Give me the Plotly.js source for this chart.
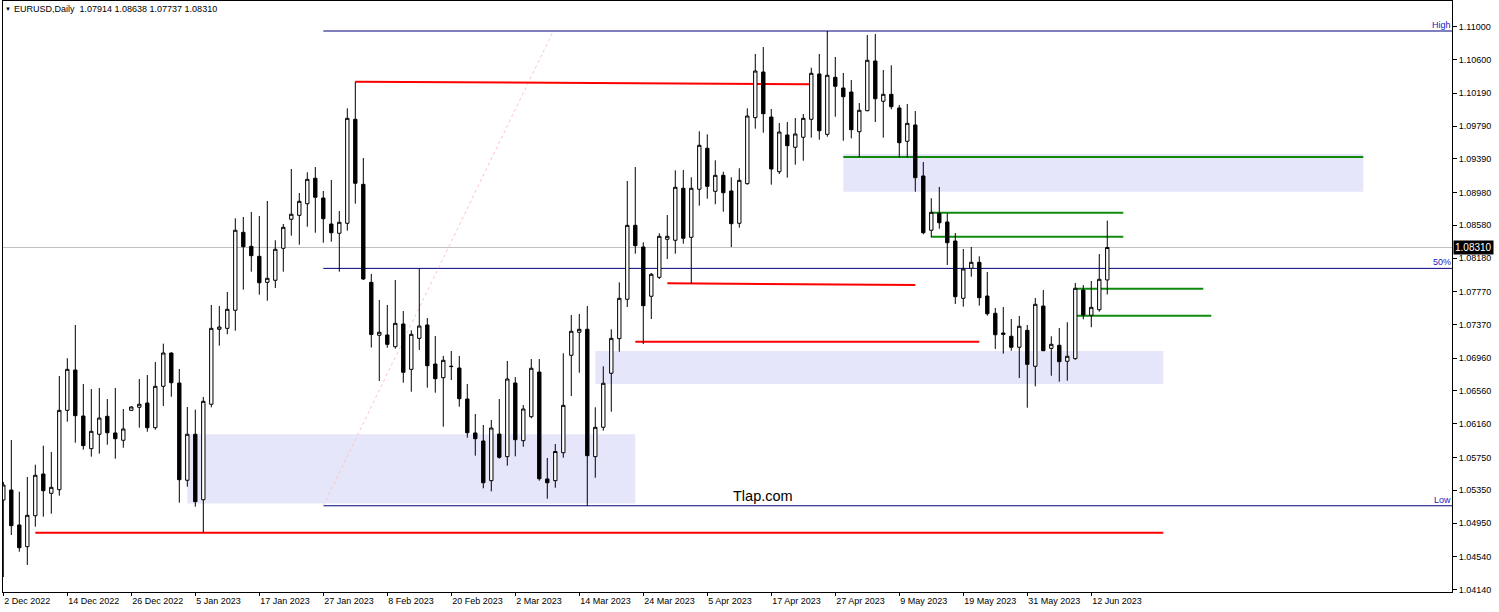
<!DOCTYPE html>
<html><head><meta charset="utf-8">
<script src="https://cdn.plot.ly/plotly-3.0.1.min.js"></script>
<style>html,body{margin:0;padding:0;background:#fff;overflow:hidden}</style>
</head><body><div id="chart" style="width:1499px;height:612px"></div>
<script>
// ---------------- data ----------------
const symbolTitle = 'EURUSD,Daily';
const lastOHLC = ['1.07914', '1.08638', '1.07737', '1.08310'];
const watermark = 'Tlap.com';

const xTickLabels = ['2 Dec 2022','14 Dec 2022','26 Dec 2022','5 Jan 2023','17 Jan 2023','27 Jan 2023',
  '8 Feb 2023','20 Feb 2023','2 Mar 2023','14 Mar 2023','24 Mar 2023','5 Apr 2023','17 Apr 2023',
  '27 Apr 2023','9 May 2023','19 May 2023','31 May 2023','12 Jun 2023'];
const barsPerXLabel = 8;

const yTickLabels = ['1.11000','1.10600','1.10190','1.09790','1.09390','1.08980','1.08580','1.08180',
  '1.07770','1.07370','1.06960','1.06560','1.06160','1.05750','1.05350','1.04950','1.04540','1.04140'];

const open = [
1.05230,1.05352,1.04926,1.04661,1.05039,1.05548,1.05312,1.05356,1.06324,1.06816,
1.06255,1.05856,1.06032,1.06251,1.06048,1.05959,1.06324,1.06361,1.06413,1.06112,
1.06617,1.07023,1.06657,1.05471,1.06032,1.05234,1.06398,1.07312,1.07324,1.07544,
1.08495,1.08324,1.08202,1.07885,1.07910,1.08300,1.08654,1.08702,1.08844,1.09154,
1.08913,1.08596,1.08483,1.08605,1.09873,1.09080,1.07885,1.07239,1.07243,1.07100,
1.07377,1.06824,1.07202,1.07365,1.06889,1.06722,1.06862,1.06840,1.06462,1.06048,
1.05950,1.05466,1.06035,1.05759,1.06657,1.05954,1.06246,1.06791,1.05487,1.05466,
1.05807,1.06995,1.07276,1.07312,1.05759,1.06117,1.06776,1.07198,1.07678,1.08580,
1.08316,1.07715,1.07946,1.08410,1.08398,1.09032,1.08434,1.09020,1.09520,1.08995,
1.09190,1.08999,1.08605,1.09088,1.09893,1.10450,1.09901,1.09234,1.09682,1.09532,
1.09654,1.09873,1.10426,1.09690,1.10385,1.10255,1.10206,1.09722,1.09978,1.10584,
1.10093,1.10178,1.10011,1.09605,1.09804,1.09182,1.08520,1.08727,1.08621,1.08389,
1.07690,1.08056,1.08129,1.07718,1.07507,1.07267,1.07227,1.07093,1.07300,1.06861,
1.07596,1.07080,1.07117,1.06922,1.06954,1.07791,1.07483,1.07551,1.07914];
const high = [
1.05450,1.05962,1.05332,1.05511,1.05661,1.05893,1.05816,1.06743,1.06959,1.07365,
1.06645,1.06584,1.06596,1.06462,1.06596,1.06340,1.06373,1.06706,1.06755,1.06913,
1.07137,1.07029,1.06828,1.06365,1.06332,1.06487,1.07609,1.07596,1.07767,1.08666,
1.08682,1.08743,1.08694,1.08877,1.08398,1.08596,1.09267,1.08974,1.09227,1.09291,
1.08999,1.09133,1.08755,1.10007,1.10332,1.09401,1.07987,1.07670,1.07609,1.07913,
1.07535,1.07300,1.08056,1.07450,1.07230,1.06987,1.07048,1.06987,1.06645,1.06279,
1.06145,1.06206,1.06462,1.06926,1.06730,1.06389,1.06950,1.06950,1.05743,1.05913,
1.07020,1.07487,1.07499,1.07596,1.06361,1.06861,1.07312,1.07885,1.09121,1.09291,
1.08373,1.07999,1.08483,1.08706,1.09251,1.09255,1.09166,1.09727,1.09690,1.09373,
1.09234,1.09166,1.09276,1.10007,1.10670,1.10755,1.09999,1.09828,1.09840,1.09889,
1.09938,1.10502,1.10670,1.10950,1.10633,1.10438,1.10352,1.10072,1.10901,1.10913,
1.10474,1.10532,1.10048,1.10060,1.09974,1.09352,1.08910,1.09048,1.08727,1.08487,
1.08291,1.08316,1.08202,1.08011,1.07572,1.07584,1.07438,1.07474,1.07365,1.07694,
1.07791,1.07227,1.07328,1.07398,1.07877,1.07852,1.07901,1.08230,1.08638];
const low = [
1.04291,1.04804,1.04600,1.04438,1.04905,1.05027,1.05063,1.05283,1.06185,1.05929,
1.05844,1.05759,1.05795,1.05905,1.05734,1.05868,1.06318,1.06112,1.06063,1.06088,
1.06377,1.06490,1.05198,1.05393,1.05149,1.04832,1.06361,1.07112,1.07251,1.07295,
1.07795,1.08015,1.07734,1.07661,1.07816,1.08015,1.08454,1.08344,1.08563,1.08490,
1.08368,1.08380,1.08015,1.08515,1.08844,1.07913,1.07090,1.06682,1.07088,1.07076,
1.06661,1.06551,1.07060,1.06600,1.06539,1.06124,1.06694,1.06368,1.05990,1.05771,
1.05373,1.05336,1.05734,1.05649,1.05763,1.05880,1.06227,1.05466,1.05246,1.05380,
1.05746,1.06499,1.06783,1.05157,1.05502,1.06076,1.06307,1.07039,1.07584,1.08234,
1.07133,1.07438,1.07926,1.08170,1.08234,1.08356,1.07868,1.08820,1.08905,1.08837,
1.08746,1.08316,1.08551,1.09076,1.09759,1.09710,1.09076,1.09206,1.09161,1.09320,
1.09368,1.09649,1.09624,1.09661,1.09905,1.09612,1.09641,1.09413,1.09971,1.09840,
1.09649,1.09995,1.09410,1.09410,1.08990,1.08471,1.08434,1.08539,1.08096,1.07621,
1.07588,1.07954,1.07600,1.07478,1.07072,1.07015,1.07051,1.06718,1.06356,1.06617,
1.07048,1.06746,1.06673,1.06685,1.06941,1.07434,1.07337,1.07527,1.07737];
const close = [
1.05413,1.04917,1.04649,1.05044,1.05532,1.05344,1.05385,1.06324,1.06824,1.06259,
1.05893,1.06068,1.06230,1.06051,1.05978,1.06096,1.06365,1.06398,1.06112,1.06617,
1.07023,1.06661,1.05478,1.06032,1.05210,1.06434,1.07324,1.07340,1.07556,1.08520,
1.08320,1.08210,1.07880,1.07934,1.08288,1.08556,1.08715,1.08873,1.09141,1.08922,
1.08661,1.08490,1.08617,1.09885,1.09093,1.07926,1.07249,1.07276,1.07129,1.07385,
1.06788,1.07251,1.07352,1.06868,1.06710,1.06934,1.06858,1.06466,1.06051,1.05978,
1.05441,1.06108,1.05751,1.06706,1.05966,1.06340,1.06837,1.05490,1.05441,1.05822,
1.06385,1.07288,1.07312,1.05771,1.06117,1.06654,1.07202,1.07690,1.08580,1.08332,
1.07600,1.07983,1.08446,1.08446,1.09044,1.08422,1.09032,1.09556,1.09056,1.09190,
1.08978,1.08600,1.09129,1.09913,1.10462,1.09941,1.09267,1.09718,1.09551,1.09694,
1.09885,1.10434,1.09734,1.10410,1.10276,1.10149,1.09746,1.09983,1.10593,1.10124,
1.10178,1.10027,1.09588,1.09824,1.09161,1.08490,1.08739,1.08612,1.08368,1.07710,
1.08048,1.08129,1.07698,1.07502,1.07246,1.07251,1.07093,1.07349,1.06885,1.07617,
1.07051,1.07129,1.06917,1.06983,1.07812,1.07487,1.07580,1.07922,1.08310];

const bidPrice = 1.08310;
// Fibonacci retracement: anchor bars and levels
const fibAnchorBars = [40, 68.75];
const fibLevelNames = ['High', '50%', 'Low'];
const fibLevelPrices = [1.10950, 1.08055, 1.05160];
// supply / demand zones: [fromBar, toBar, topPrice, bottomPrice]
const zoneFrom = [23, 74, 105];
const zoneTo = [79, 145, 170];
const zoneTop = [1.06032, 1.07048, 1.09450];
const zoneBottom = [1.05188, 1.06645, 1.08990];
// green levels: [fromBar, toBar, price]
const greenFrom = [105, 116, 116, 134, 134];
const greenTo = [170, 140, 140, 150, 151];
const greenPrice = [1.09413, 1.08734, 1.08441, 1.07807, 1.07478];
// red lines: fromBar, toBar, startPrice, endPrice
const redFrom = [4, 44, 83, 79];
const redTo = [145, 100.8, 114, 122];
const redStart = [1.04832, 1.10332, 1.07874, 1.07161];
const redEnd = [1.04832, 1.10301, 1.07852, 1.07161];

// ---------------- chart ----------------
const X_RANGE = [-0.0375, 181.09];
const Y_RANGE = [1.041085, 1.113158];
const FONT = 'Liberation Sans, Arial, sans-serif';
const idx = open.map((_, i) => i);

const traces = [{
  type: 'candlestick', x: idx, open: open, high: high, low: low, close: close,
  increasing: {line: {color: '#000000', width: 1}, fillcolor: '#ffffff'},
  decreasing: {line: {color: '#000000', width: 1}, fillcolor: '#000000'},
  whiskerwidth: 0, hoverinfo: 'skip', showlegend: false
}];

const shapes = [];
zoneFrom.forEach((f, i) => shapes.push({type: 'rect', xref: 'x', yref: 'y', x0: f, x1: zoneTo[i],
  y0: zoneBottom[i], y1: zoneTop[i], fillcolor: '#E6E6FA', line: {width: 0}, layer: 'below'}));
shapes.push({type: 'line', xref: 'x', yref: 'y', x0: X_RANGE[0], x1: X_RANGE[1], y0: bidPrice, y1: bidPrice,
  line: {color: '#C0C0C0', width: 1}, layer: 'below'});
fibLevelPrices.forEach(p => shapes.push({type: 'line', xref: 'x', yref: 'y', x0: fibAnchorBars[0], x1: X_RANGE[1],
  y0: p, y1: p, line: {color: '#000080', width: 1}, layer: 'below'}));
shapes.push({type: 'line', xref: 'x', yref: 'y', x0: fibAnchorBars[0], x1: fibAnchorBars[1],
  y0: fibLevelPrices[2], y1: fibLevelPrices[0], line: {color: '#FFC4C4', width: 1, dash: 'dot'}, layer: 'below'});
greenFrom.forEach((f, i) => shapes.push({type: 'line', xref: 'x', yref: 'y', x0: f, x1: greenTo[i],
  y0: greenPrice[i], y1: greenPrice[i], line: {color: '#0E8A0E', width: 2}, layer: 'below'}));
redFrom.forEach((f, i) => shapes.push({type: 'line', xref: 'x', yref: 'y', x0: f, x1: redTo[i],
  y0: redStart[i], y1: redEnd[i], line: {color: '#FF0000', width: 2}, layer: 'below'}));

const annotations = [];
annotations.push({xref: 'paper', yref: 'paper', x: 0.0003, y: 0.9865, xanchor: 'left', yanchor: 'middle',
  text: '▼', showarrow: false, font: {family: FONT, size: 6, color: '#000'}});
annotations.push({xref: 'paper', yref: 'paper', x: 0.0062, y: 0.9865, xanchor: 'left', yanchor: 'middle',
  text: symbolTitle + '&nbsp;&nbsp;' + lastOHLC.join(' '), showarrow: false,
  font: {family: FONT, size: 9, color: '#000'}});
fibLevelNames.forEach((n, i) => annotations.push({xref: 'paper', yref: 'y', x: 1, y: fibLevelPrices[i],
  xanchor: 'right', yanchor: 'bottom', text: n, showarrow: false, borderpad: 0,
  font: {family: FONT, size: 9, color: '#2020C0'}}));
annotations.push({xref: 'x', yref: 'y', x: 94.96, y: 1.05279, xanchor: 'center', yanchor: 'middle',
  text: watermark, showarrow: false, font: {family: FONT, size: 14.5, color: '#000'}});
annotations.push({xref: 'paper', yref: 'y', x: 1, y: bidPrice, xanchor: 'left', yanchor: 'middle', xshift: 1,
  text: lastOHLC[3], showarrow: false, bgcolor: '#000', borderpad: 1,
  font: {family: FONT, size: 10, color: '#fff'}});

const layout = {
  width: 1499, height: 612,
  margin: {l: 3, r: 47, t: 1, b: 20, pad: 0},
  paper_bgcolor: '#ffffff', plot_bgcolor: '#ffffff',
  showlegend: false, boxgap: 0.4,
  xaxis: {
    type: 'linear', range: X_RANGE, rangeslider: {visible: false}, showgrid: false, zeroline: false,
    showline: true, linecolor: '#000', linewidth: 1, mirror: true,
    ticks: 'outside', ticklen: 3, tickcolor: '#000', tickwidth: 1,
    tickvals: xTickLabels.map((_, i) => i * barsPerXLabel), ticktext: xTickLabels,
    ticklabelposition: 'outside right',
    tickfont: {family: FONT, size: 9, color: '#000'}, fixedrange: true
  },
  yaxis: {
    side: 'right', range: Y_RANGE, showgrid: false, zeroline: false,
    showline: true, linecolor: '#000', linewidth: 1, mirror: true,
    ticks: 'outside', ticklen: 4, tickcolor: '#000', tickwidth: 1,
    tickvals: yTickLabels.map(Number), ticktext: yTickLabels,
    tickfont: {family: FONT, size: 9, color: '#000'}, fixedrange: true
  },
  shapes: shapes, annotations: annotations
};

Plotly.newPlot('chart', traces, layout, {displayModeBar: false, staticPlot: true});
</script></body></html>
